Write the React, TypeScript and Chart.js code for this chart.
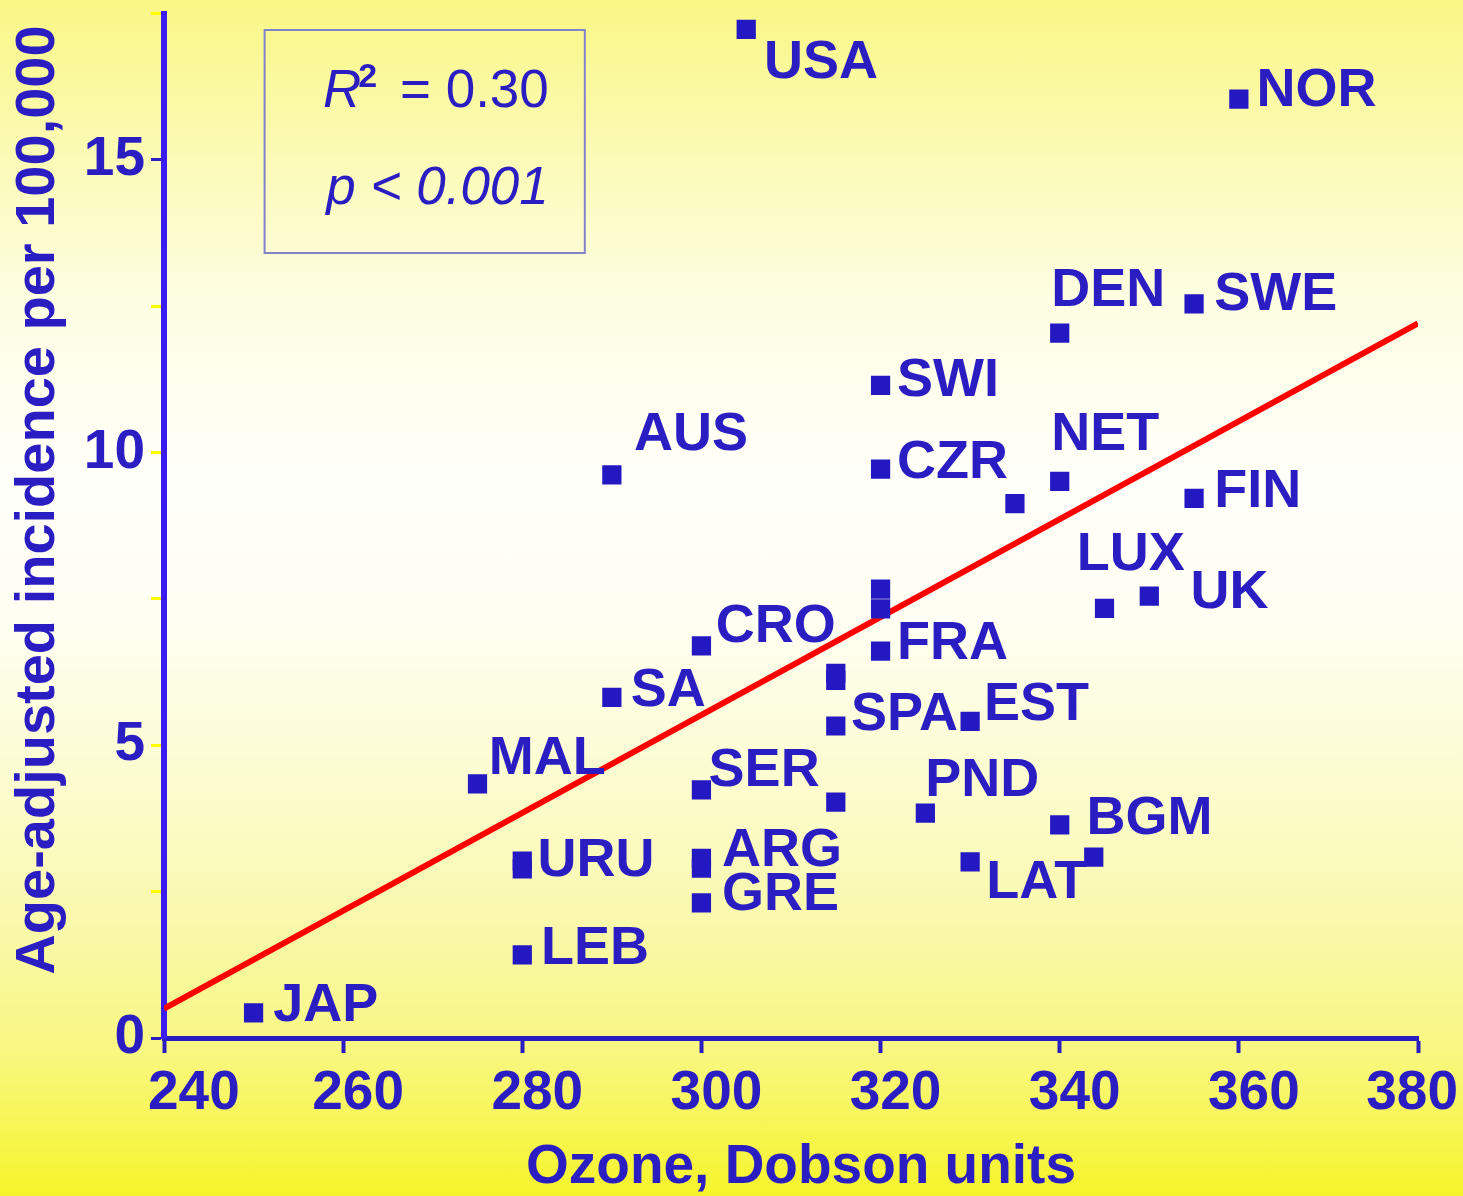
import React, { useEffect, useRef } from "react";
import { Chart, registerables } from "chart.js";

Chart.register(...registerables);

// Scatter data: ozone (Dobson units) vs age-adjusted incidence per 100,000
const ozone = [250, 280, 280, 280, 275, 290, 290, 300, 300, 300, 300, 300, 305, 320, 320, 320, 320, 320, 315, 315, 315, 315, 325, 330, 330, 335, 340, 340, 340, 343.8, 345, 350, 355, 355, 360];
const incidence = [0.43, 1.42, 3.02, 2.89, 4.34, 5.82, 9.62, 6.7, 4.24, 3.07, 2.9, 2.31, 17.23, 11.15, 9.72, 7.67, 7.33, 6.61, 6.23, 6.11, 5.33, 4.03, 3.84, 5.41, 3.01, 9.13, 12.04, 9.51, 3.64, 3.09, 7.34, 7.55, 9.22, 12.54, 16.04];

// Regression line end points
const fitX = [240, 380];
const fitY = [0.5, 12.21];

// Country labels and their anchors (data units)
const labelNames = ["USA", "NOR", "DEN", "SWE", "SWI", "AUS", "NET", "CZR", "FIN", "LUX", "UK", "CRO", "FRA", "SA", "SPA", "EST", "MAL", "SER", "PND", "BGM", "ARG", "URU", "LAT", "GRE", "LEB", "JAP"];
const labelX = [306.98, 361.96, 339.05, 357.26, 321.84, 292.46, 339.05, 321.84, 357.26, 341.9, 354.6, 301.6, 321.84, 292.1, 316.7, 331.55, 276.26, 300.8, 325.0, 343.0, 302.3, 281.7, 331.8, 302.3, 282.1, 252.2];
const labelY = [16.7, 16.23, 12.81, 12.74, 11.27, 10.35, 10.35, 9.87, 9.38, 8.3, 7.65, 7.07, 6.78, 5.98, 5.57, 5.74, 4.82, 4.61, 4.44, 3.79, 3.25, 3.07, 2.7, 2.49, 1.57, 0.6];

// Axis ticks
const xMin = 240;
const xMax = 380;
const xStep = 20;
const yMin = 0;
const yMax = 17.5;
const yStep = 2.5;

const xTitle = "Ozone, Dobson units";
const yTitle = "Age-adjusted incidence per 100,000";
const statLine1 = "= 0.30";
const statLine2 = "< 0.001";

const BLUE = "#2a1dc2";
const FONT = "'Liberation Sans', Arial, Helvetica, sans-serif";

export default function App() {
  const ref = useRef<HTMLCanvasElement | null>(null);

  useEffect(() => {
    document.body.style.margin = "0";
    const canvas = ref.current;
    if (!canvas) return;

    const overlay = {
      id: "overlay",
      afterDraw(chart: any) {
        const ctx = chart.ctx;
        const xs = chart.scales.x;
        const ys = chart.scales.y;
        const W = chart.width;
        ctx.save();
        ctx.fillStyle = BLUE;

        // x tick labels (shifted right of the tick, kept inside the picture)
        ctx.font = `bold 55px ${FONT}`;
        ctx.textAlign = "left";
        ctx.textBaseline = "middle";
        xs.ticks.forEach((t: any) => {
          const txt = String(t.value);
          const w = ctx.measureText(txt).width;
          let left = xs.getPixelForValue(t.value) + 15 - w / 2;
          left = Math.max(left, 148);
          left = Math.min(left, W - 5 - w);
          ctx.fillText(txt, left, xs.top + 56);
        });

        // country labels
        ctx.font = `bold 54px ${FONT}`;
        ctx.textAlign = "left";
        ctx.textBaseline = "middle";
        labelNames.forEach((n, i) => {
          ctx.fillText(n, xs.getPixelForValue(labelX[i]), ys.getPixelForValue(labelY[i]) + 3);
        });

        // stats box
        const bx1 = xs.getPixelForValue(251.23);
        const bx2 = xs.getPixelForValue(286.98);
        const by1 = ys.getPixelForValue(17.22);
        const by2 = ys.getPixelForValue(13.41);
        ctx.strokeStyle = "#8282cc";
        ctx.lineWidth = 2;
        ctx.strokeRect(bx1, by1, bx2 - bx1, by2 - by1);

        const right = bx2 - 36;
        ctx.textBaseline = "alphabetic";
        ctx.textAlign = "right";
        // line 1: R² = 0.30
        ctx.font = `53px ${FONT}`;
        const w1 = ctx.measureText(" " + statLine1).width;
        ctx.fillText(" " + statLine1, right, by1 + 77);
        ctx.font = `bold 34px ${FONT}`;
        const w2 = ctx.measureText("2").width;
        ctx.fillText("2", right - w1 - 8, by1 + 57);
        ctx.font = `italic 53px ${FONT}`;
        ctx.fillText("R", right - w1 - 8 - w2 + 3, by1 + 77);
        // line 2: p < 0.001
        ctx.font = `italic 53px ${FONT}`;
        ctx.fillText("p " + statLine2, right, by1 + 174);

        // axis titles
        ctx.font = `bold 55px ${FONT}`;
        ctx.textAlign = "center";
        ctx.textBaseline = "middle";
        ctx.fillText(xTitle, (xs.left + xs.right) / 2 + 10, 1168);
        ctx.save();
        ctx.font = `bold 56px ${FONT}`;
        ctx.translate(39, 500);
        ctx.rotate(-Math.PI / 2);
        ctx.fillText(yTitle, 0, 0);
        ctx.restore();
        ctx.restore();
      },
    };

    const chart = new Chart(canvas, {
      type: "scatter",
      data: {
        datasets: [
          {
            type: "line",
            label: "fit",
            data: fitX.map((x, i) => ({ x, y: fitY[i] })),
            borderColor: "#ff0000",
            borderWidth: 6,
            pointRadius: 0,
            fill: false,
            order: 2,
          },
          {
            label: "countries",
            data: ozone.map((x, i) => ({ x, y: incidence[i] })),
            pointStyle: "rect",
            pointRadius: 13.6,
            backgroundColor: "#2418c2",
            borderWidth: 0,
            order: 1,
          },
        ],
      },
      options: {
        responsive: false,
        animation: false,
        devicePixelRatio: 1,
        layout: { padding: { top: 12, right: 45, left: 0, bottom: 0 } },
        plugins: { legend: { display: false }, tooltip: { enabled: false } },
        scales: {
          x: {
            type: "linear",
            min: xMin,
            max: xMax,
            afterFit: (s: any) => {
              s.height = 158;
              s.paddingLeft = 0;
              s.paddingRight = 0;
            },
            ticks: {
              stepSize: xStep,
              display: false,
            },
            grid: {
              drawOnChartArea: false,
              drawTicks: true,
              tickLength: 15,
              tickWidth: 4,
              tickColor: BLUE,
            },
            border: { color: BLUE, width: 5 },
            title: { display: false },
          },
          y: {
            type: "linear",
            min: yMin,
            max: yMax,
            afterFit: (s: any) => {
              s.width = 164;
              s.paddingTop = 0;
              s.paddingBottom = 0;
            },
            ticks: {
              stepSize: yStep,
              color: BLUE,
              font: { family: FONT, size: 55, weight: "bold" },
              padding: 6,
              callback: (v: any) => (Number(v) % 5 === 0 ? String(v) : ""),
            },
            grid: {
              drawOnChartArea: false,
              drawTicks: true,
              tickLength: 13,
              tickWidth: 3,
              tickColor: (c: any) =>
                c.tick && (c.tick.value === 0 || c.tick.value === 15) ? BLUE : "#ffff00",
            },
            border: { color: "#3a1cf0", width: 6 },
            title: { display: false },
          },
        },
      },
      plugins: [overlay],
    });

    return () => chart.destroy();
  }, []);

  return (
    <div
      style={{
        position: "fixed",
        left: 0,
        top: 0,
        width: 1463,
        height: 1196,
        background:
          "linear-gradient(to bottom, #f9f785 0%, #fdfde2 25%, #fffffa 40%, #fefef2 52%, #fbfbc8 68%, #f9f8a8 78%, #f8f780 88%, #f5f42a 100%)",
      }}
    >
      <canvas ref={ref} width={1463} height={1196} style={{ display: "block" }} />
    </div>
  );
}
